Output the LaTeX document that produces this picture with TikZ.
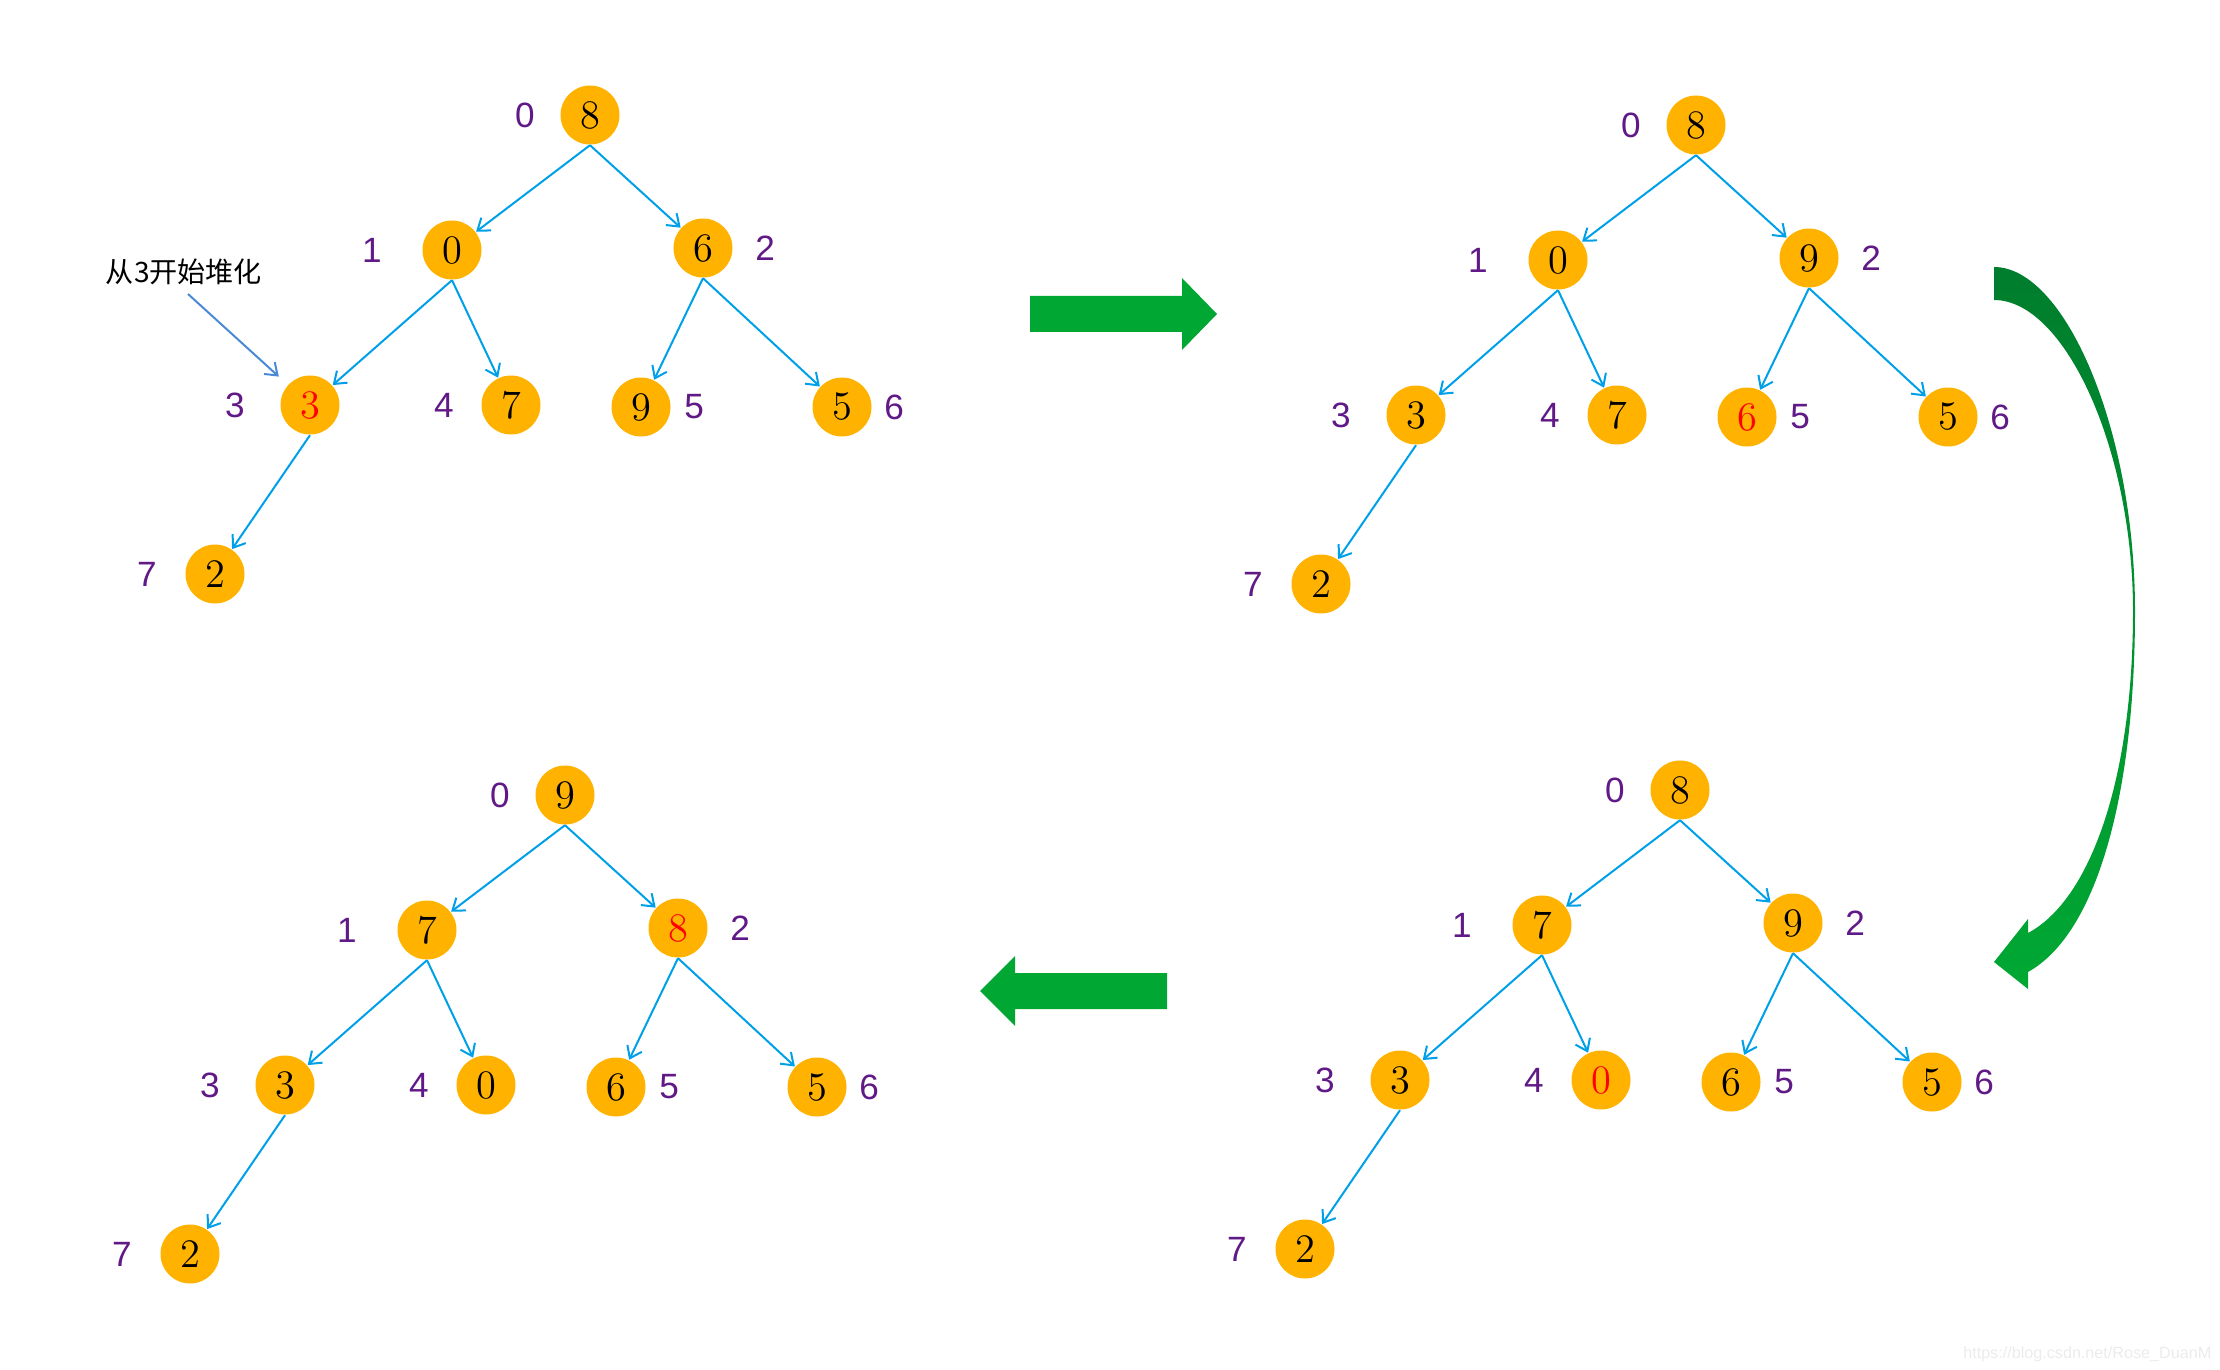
\documentclass[tikz,border=0pt]{standalone}
\usepackage{fontspec}
\newfontfamily\idxfont{Liberation Sans}
\newfontfamily\cjkfont{Noto Sans CJK SC}
\usetikzlibrary{positioning,arrows.meta}
\definecolor{heapnode}{RGB}{255,179,0}
\definecolor{heapedge}{RGB}{0,160,233}
\definecolor{heapidx}{RGB}{96,25,134}
\definecolor{swapred}{RGB}{255,0,0}
\definecolor{flowgreen}{RGB}{0,168,51}
\definecolor{flowdark}{RGB}{0,125,45}
\definecolor{notearrow}{RGB}{74,137,214}
\begin{document}
\begin{tikzpicture}[x=0.1mm,y=-0.1mm,
  hnode/.style={circle, fill=heapnode, minimum size=5.9mm, inner sep=0pt, font=\fontsize{11.5}{12}\selectfont},
  hot/.style={text=swapred},
  idx/.style={text=heapidx, inner sep=0pt, font=\idxfont\fontsize{10}{12}\selectfont},
  link/.style={draw=heapedge, line width=0.2mm, -{Straight Barb[length=1.1mm,width=1.6mm]}},
  note/.style={inner sep=0pt, font=\cjkfont\fontsize{8}{9.6}\selectfont},
  notelink/.style={draw=notearrow, line width=0.2mm, shorten >=1.2mm, -{Straight Barb[length=1.1mm,width=1.6mm]}},
  wm/.style={inner sep=0pt, text=black!8, font=\idxfont\fontsize{4.6}{5.5}\selectfont}]
\useasboundingbox (0,0) rectangle (2220,1370);
\begin{scope}
\node [hnode] (a0) at (590,115) {8};
\node [hnode] (a1) at (452,250) {0};
\node [hnode] (a2) at (703,248) {6};
\node [hnode, hot] (a3) at (310,405) {3};
\node [hnode] (a4) at (511,405) {7};
\node [hnode] (a5) at (641,407) {9};
\node [hnode] (a6) at (842,407) {5};
\node [hnode] (a7) at (215,574) {2};
\node [idx, left=2.45mm of a0] (la0) {0};
\node [idx, left=3.95mm of a1] (la1) {1};
\node [idx, right=2.15mm of a2] (la2) {2};
\node [idx, left=3.45mm of a3] (la3) {3};
\node [idx, left=2.65mm of a4] (la4) {4};
\node [idx, right=1.25mm of a5] (la5) {5};
\node [idx, right=1.15mm of a6] (la6) {6};
\node [idx, left=2.75mm of a7] (la7) {7};
\draw [link] (a0.south) -- (a1);
\draw [link] (a0.south) -- (a2);
\draw [link] (a1.south) -- (a3);
\draw [link] (a1.south) -- (a4);
\draw [link] (a2.south) -- (a5);
\draw [link] (a2.south) -- (a6);
\draw [link] (a3.south) -- (a7);
\end{scope}
\node [note] (note) at (184,272) {从3开始堆化};
\coordinate (notetail) at (188,294);
\draw [notelink] (notetail) -- (a3);
\begin{scope}[shift={(1106,10)}]
\node [hnode] (b0) at (590,115) {8};
\node [hnode] (b1) at (452,250) {0};
\node [hnode] (b2) at (703,248) {9};
\node [hnode] (b3) at (310,405) {3};
\node [hnode] (b4) at (511,405) {7};
\node [hnode, hot] (b5) at (641,407) {6};
\node [hnode] (b6) at (842,407) {5};
\node [hnode] (b7) at (215,574) {2};
\node [idx, left=2.45mm of b0] (lb0) {0};
\node [idx, left=3.95mm of b1] (lb1) {1};
\node [idx, right=2.15mm of b2] (lb2) {2};
\node [idx, left=3.45mm of b3] (lb3) {3};
\node [idx, left=2.65mm of b4] (lb4) {4};
\node [idx, right=1.25mm of b5] (lb5) {5};
\node [idx, right=1.15mm of b6] (lb6) {6};
\node [idx, left=2.75mm of b7] (lb7) {7};
\draw [link] (b0.south) -- (b1);
\draw [link] (b0.south) -- (b2);
\draw [link] (b1.south) -- (b3);
\draw [link] (b1.south) -- (b4);
\draw [link] (b2.south) -- (b5);
\draw [link] (b2.south) -- (b6);
\draw [link] (b3.south) -- (b7);
\end{scope}
\begin{scope}[shift={(1090,675)}]
\node [hnode] (c0) at (590,115) {8};
\node [hnode] (c1) at (452,250) {7};
\node [hnode] (c2) at (703,248) {9};
\node [hnode] (c3) at (310,405) {3};
\node [hnode, hot] (c4) at (511,405) {0};
\node [hnode] (c5) at (641,407) {6};
\node [hnode] (c6) at (842,407) {5};
\node [hnode] (c7) at (215,574) {2};
\node [idx, left=2.45mm of c0] (lc0) {0};
\node [idx, left=3.95mm of c1] (lc1) {1};
\node [idx, right=2.15mm of c2] (lc2) {2};
\node [idx, left=3.45mm of c3] (lc3) {3};
\node [idx, left=2.65mm of c4] (lc4) {4};
\node [idx, right=1.25mm of c5] (lc5) {5};
\node [idx, right=1.15mm of c6] (lc6) {6};
\node [idx, left=2.75mm of c7] (lc7) {7};
\draw [link] (c0.south) -- (c1);
\draw [link] (c0.south) -- (c2);
\draw [link] (c1.south) -- (c3);
\draw [link] (c1.south) -- (c4);
\draw [link] (c2.south) -- (c5);
\draw [link] (c2.south) -- (c6);
\draw [link] (c3.south) -- (c7);
\end{scope}
\begin{scope}[shift={(-25,680)}]
\node [hnode] (d0) at (590,115) {9};
\node [hnode] (d1) at (452,250) {7};
\node [hnode, hot] (d2) at (703,248) {8};
\node [hnode] (d3) at (310,405) {3};
\node [hnode] (d4) at (511,405) {0};
\node [hnode] (d5) at (641,407) {6};
\node [hnode] (d6) at (842,407) {5};
\node [hnode] (d7) at (215,574) {2};
\node [idx, left=2.45mm of d0] (ld0) {0};
\node [idx, left=3.95mm of d1] (ld1) {1};
\node [idx, right=2.15mm of d2] (ld2) {2};
\node [idx, left=3.45mm of d3] (ld3) {3};
\node [idx, left=2.65mm of d4] (ld4) {4};
\node [idx, right=1.25mm of d5] (ld5) {5};
\node [idx, right=1.15mm of d6] (ld6) {6};
\node [idx, left=2.75mm of d7] (ld7) {7};
\draw [link] (d0.south) -- (d1);
\draw [link] (d0.south) -- (d2);
\draw [link] (d1.south) -- (d3);
\draw [link] (d1.south) -- (d4);
\draw [link] (d2.south) -- (d5);
\draw [link] (d2.south) -- (d6);
\draw [link] (d3.south) -- (d7);
\end{scope}
\fill [flowgreen] (1030,296) -- (1182,296) -- (1182,278) -- (1217,314) -- (1182,350) -- (1182,332) -- (1030,332) -- cycle;
\fill [flowgreen] (1167,973) -- (1015,973) -- (1015,956) -- (980,991) -- (1015,1026) -- (1015,1009) -- (1167,1009) -- cycle;
\shade [top color=flowdark, bottom color=flowgreen] (1994,267) .. controls (2065,267) and (2135,430) .. (2135,611) .. controls (2135,800) and (2095,935) .. (2028,972) -- (2028,989) -- (1994,962) -- (2028,919) -- (2028,933) .. controls (2090,900) and (2133,780) .. (2133,611) .. controls (2133,450) and (2065,300) .. (1994,300) -- cycle;
\node [wm, anchor=east] (wmark) at (2212,1354) {https://blog.csdn.net/Rose\_DuanM};
\end{tikzpicture}
\end{document}
